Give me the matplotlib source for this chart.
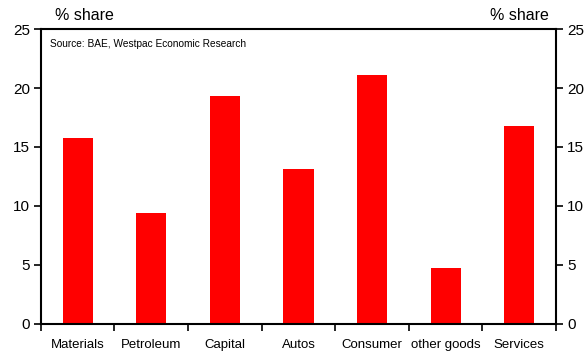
import numpy as np
import matplotlib
matplotlib.use("Agg")
import matplotlib.pyplot as plt
from matplotlib.ticker import FixedLocator

plt.rcParams['font.family'] = ['Liberation Sans', 'DejaVu Sans']

categories = ['Materials', 'Petroleum', 'Capital', 'Autos', 'Consumer', 'other goods', 'Services']
shares = [15.8, 9.4, 19.3, 13.1, 21.1, 4.7, 16.8]
yticks = [0, 5, 10, 15, 20, 25]

fig = plt.figure(figsize=(5.84, 3.54), dpi=100)
ax = fig.add_axes([0.070, 0.085, 0.882, 0.833])

x = np.arange(len(categories))
ax.bar(x, shares, width=0.41, color='#ff0000')

ax.set_xlim(-0.5, len(categories) - 0.5)
ax.set_ylim(0, 25)
ax.set_yticks(yticks)
ax.set_xticks(x)
ax.set_xticklabels(categories, fontsize=9.5)
ax.xaxis.set_minor_locator(FixedLocator(np.arange(len(categories) + 1) - 0.5))
ax.tick_params(axis='x', which='major', length=0, pad=11)
ax.tick_params(axis='x', which='minor', length=5, width=1.2, direction='out')
ax.tick_params(axis='y', which='major', length=5, width=1.2, direction='out',
               labelsize=11, right=True, labelright=True, pad=3)

for side in ['left', 'right', 'top', 'bottom']:
    ax.spines[side].set_linewidth(1.5)

fig.text(0.094, 0.955, '% share', fontsize=11.5, ha='left', va='center')
fig.text(0.940, 0.955, '% share', fontsize=11.5, ha='right', va='center')
ax.text(0.018, 0.965, 'Source: BAE, Westpac Economic Research', transform=ax.transAxes,
        fontsize=7.3, ha='left', va='top')

plt.savefig('out.png', dpi=100)
